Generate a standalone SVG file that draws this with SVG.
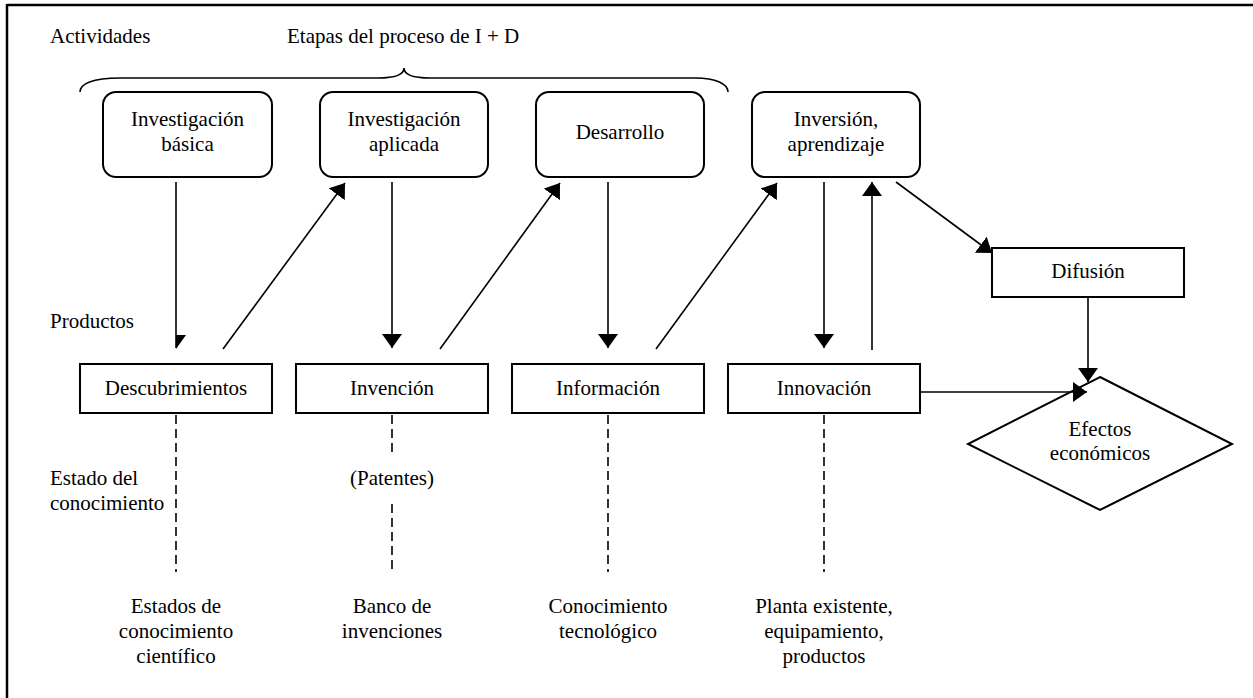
<svg xmlns="http://www.w3.org/2000/svg" width="1253" height="698" viewBox="0 0 1253 698">
<defs>
<style>
text{font-family:'Liberation Serif',Tinos,'Times New Roman',Times,serif;font-size:21px;fill:#000}
.c{text-anchor:middle}
.box{fill:#fff;stroke:#000;stroke-width:2}
.ln{fill:none;stroke:#000;stroke-width:1.6}
.dash{fill:none;stroke:#000;stroke-width:1.6;stroke-dasharray:9 5}
</style>
<marker id="ah" viewBox="0 0 14 20" refX="14" refY="10" markerWidth="14" markerHeight="20" markerUnits="userSpaceOnUse" orient="auto">
<path d="M0,0 L14,10 L0,20 Z" fill="#000"/>
</marker>
</defs>
<rect width="1253" height="698" fill="#fff"/>
<g font-family="Liberation Serif, Tinos, Times New Roman, serif">
<g id="frame">
<line x1="7" y1="5" x2="1253" y2="5" stroke="#000" stroke-width="2.5"/>
<line x1="7" y1="4" x2="7" y2="698" stroke="#000" stroke-width="2.5"/>
</g>
<g id="labels">
<text x="50" y="43">Actividades</text>
<text x="287" y="43">Etapas del proceso de I + D</text>
<path class="ln" d="M80,92 C80,84 92,78 120,78 L378,78 C396,78 404,74 404,68 C404,74 412,78 430,78 L695,78 C716,78 728,84 728,92"/>
<text x="50" y="328">Productos</text>
<text x="50" y="485">Estado del</text>
<text x="50" y="510">conocimiento</text>
</g>
<g id="connectors">
<line class="ln" x1="176" y1="182" x2="176" y2="348"/>
<polygon points="176,335 186,335 176,349" fill="#000"/>
<line class="ln" x1="223" y1="349" x2="345" y2="183" marker-end="url(#ah)"/>
<line class="ln" x1="392" y1="182" x2="392" y2="348" marker-end="url(#ah)"/>
<line class="ln" x1="440" y1="349" x2="560" y2="183" marker-end="url(#ah)"/>
<line class="ln" x1="608" y1="182" x2="608" y2="348" marker-end="url(#ah)"/>
<line class="ln" x1="656" y1="349" x2="777" y2="183" marker-end="url(#ah)"/>
<line class="ln" x1="824" y1="182" x2="824" y2="348" marker-end="url(#ah)"/>
<line class="ln" x1="872" y1="350" x2="872" y2="182" marker-end="url(#ah)"/>
<line class="ln" x1="896" y1="182" x2="992" y2="253" marker-end="url(#ah)"/>
<line class="ln" x1="1088" y1="297" x2="1088" y2="382" marker-end="url(#ah)"/>
<line class="ln" x1="920" y1="392" x2="1087" y2="392" marker-end="url(#ah)"/>
<line class="dash" x1="176" y1="415" x2="176" y2="572"/>
<line class="dash" x1="392" y1="415" x2="392" y2="455"/>
<line class="dash" x1="392" y1="504" x2="392" y2="572"/>
<line class="dash" x1="608" y1="415" x2="608" y2="572"/>
<line class="dash" x1="824" y1="415" x2="824" y2="572"/>
</g>
<g id="inv-basica">
<rect class="box" x="103" y="92" width="169" height="85" rx="13"/>
<text class="c" x="187.5" y="126">Investigación</text>
<text class="c" x="187.5" y="151">básica</text>
</g>
<g id="inv-aplicada">
<rect class="box" x="320" y="92" width="168" height="85" rx="13"/>
<text class="c" x="404" y="126">Investigación</text>
<text class="c" x="404" y="151">aplicada</text>
</g>
<g id="desarrollo">
<rect class="box" x="536" y="92" width="168" height="85" rx="13"/>
<text class="c" x="620" y="139">Desarrollo</text>
</g>
<g id="inversion">
<rect class="box" x="752" y="92" width="168" height="85" rx="13"/>
<text class="c" x="836" y="126">Inversión,</text>
<text class="c" x="836" y="151">aprendizaje</text>
</g>
<g id="difusion">
<rect class="box" x="992" y="248" width="192" height="49"/>
<text class="c" x="1088" y="278">Difusión</text>
</g>
<g id="descubrimientos">
<rect class="box" x="80" y="364" width="192" height="49"/>
<text class="c" x="176" y="395">Descubrimientos</text>
</g>
<g id="invencion">
<rect class="box" x="296" y="364" width="192" height="49"/>
<text class="c" x="392" y="395">Invención</text>
</g>
<g id="informacion">
<rect class="box" x="512" y="364" width="192" height="49"/>
<text class="c" x="608" y="395">Información</text>
</g>
<g id="innovacion">
<rect class="box" x="728" y="364" width="192" height="49"/>
<text class="c" x="824" y="395">Innovación</text>
</g>
<g id="efectos">
<polygon points="1100,377 1232,444 1100,510 968,444" fill="none" stroke="#000" stroke-width="2"/>
<text class="c" x="1100" y="436">Efectos</text>
<text class="c" x="1100" y="460">económicos</text>
</g>
<g id="patentes">
<text class="c" x="392" y="485">(Patentes)</text>
</g>
<g id="estados">
<text class="c" x="176" y="613">Estados de</text>
<text class="c" x="176" y="638">conocimiento</text>
<text class="c" x="176" y="663">científico</text>
</g>
<g id="banco">
<text class="c" x="392" y="613">Banco de</text>
<text class="c" x="392" y="638">invenciones</text>
</g>
<g id="conocimiento">
<text class="c" x="608" y="613">Conocimiento</text>
<text class="c" x="608" y="638">tecnológico</text>
</g>
<g id="planta">
<text class="c" x="824" y="613">Planta existente,</text>
<text class="c" x="824" y="638">equipamiento,</text>
<text class="c" x="824" y="663">productos</text>
</g>
</g>
</svg>
